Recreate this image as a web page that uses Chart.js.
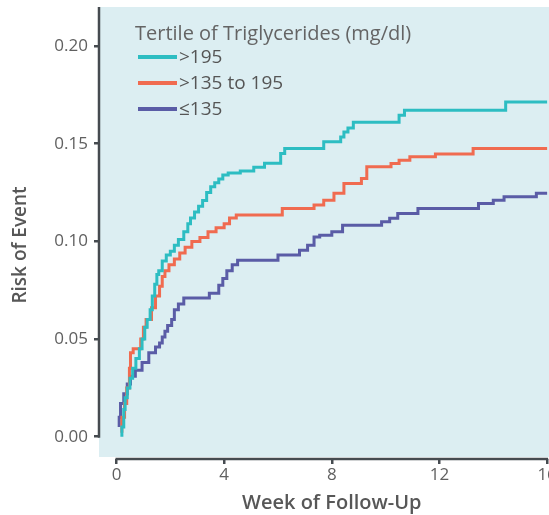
<!DOCTYPE html>
<html>
<head>
<meta charset="utf-8">
<script src="https://cdn.jsdelivr.net/npm/chart.js@4.4.0/dist/chart.umd.min.js"></script>
<style>
  html, body { margin: 0; padding: 0; background: #ffffff; overflow: hidden; }
  #wrap { position: relative; width: 549px; height: 515px; }
</style>
</head>
<body>
<div id="wrap"><canvas id="chart" width="549" height="515"></canvas></div>
<script>
// Cumulative risk curves by triglyceride tertile (step functions)
const weeksHigh = [0.2, 0.27, 0.32, 0.4, 0.5, 0.6, 0.72, 0.85, 0.95, 1.05, 1.14, 1.25, 1.33, 1.42, 1.5, 1.57, 1.7, 1.85, 2.0, 2.15, 2.3, 2.5, 2.65, 2.75, 2.9, 3.05, 3.2, 3.35, 3.5, 3.65, 3.8, 3.95, 4.15, 4.6, 5.1, 5.5, 6.1, 6.25, 7.7, 8.33, 8.45, 8.6, 8.8, 10.5, 10.7, 14.46, 15.27, 16.0];
const riskHigh  = [0.0, 0.005, 0.014, 0.02, 0.025, 0.03, 0.035, 0.04, 0.045, 0.05, 0.056, 0.06, 0.065, 0.072, 0.078, 0.083, 0.085, 0.09, 0.093, 0.095, 0.098, 0.101, 0.105, 0.109, 0.112, 0.115, 0.118, 0.121, 0.125, 0.128, 0.130, 0.132, 0.134, 0.135, 0.136, 0.138, 0.140, 0.145, 0.1476, 0.151, 0.1535, 0.156, 0.158, 0.161, 0.1646, 0.1672, 0.1714, 0.1714];

const weeksMid = [0.2, 0.3, 0.38, 0.48, 0.52, 0.62, 0.9, 1.0, 1.1, 1.3, 1.45, 1.6, 1.7, 1.8, 1.95, 2.15, 2.35, 2.55, 2.8, 3.1, 3.4, 3.7, 4.0, 4.2, 4.45, 6.16, 7.34, 7.7, 8.08, 8.45, 9.1, 9.3, 10.2, 10.5, 10.9, 11.85, 13.25, 15.85, 16.0];
const riskMid  = [0.002, 0.01, 0.017, 0.025, 0.035, 0.043, 0.045, 0.05, 0.056, 0.06, 0.066, 0.072, 0.077, 0.082, 0.085, 0.088, 0.091, 0.094, 0.097, 0.100, 0.102, 0.105, 0.107, 0.109, 0.112, 0.1135, 0.1169, 0.1186, 0.1211, 0.1246, 0.1297, 0.1322, 0.1382, 0.1399, 0.1416, 0.1433, 0.1448, 0.1476, 0.1476];

const weeksLow = [0.1, 0.15, 0.27, 0.4, 0.52, 0.7, 0.95, 1.2, 1.45, 1.6, 1.7, 1.8, 1.9, 2.05, 2.15, 2.3, 2.5, 3.45, 3.8, 3.95, 4.1, 4.3, 4.5, 6.0, 6.8, 7.1, 7.34, 7.55, 8.0, 8.4, 9.85, 10.15, 10.45, 11.2, 13.45, 14.0, 14.4, 15.6, 15.9, 16.0];
const riskLow  = [0.005, 0.01, 0.017, 0.022, 0.027, 0.031, 0.034, 0.038, 0.043, 0.046, 0.048, 0.051, 0.054, 0.057, 0.060, 0.065, 0.068, 0.071, 0.0734, 0.0776, 0.081, 0.085, 0.088, 0.0904, 0.093, 0.0955, 0.098, 0.1023, 0.1032, 0.105, 0.1083, 0.110, 0.1118, 0.1143, 0.1169, 0.1194, 0.1211, 0.1228, 0.1246, 0.1246];

const seriesLabels = ['>195', '>135 to 195', '\u2264135'];
const seriesColors = ['#2dbdc2', '#f06b50', '#5a5ca6'];
const xTicks = [0, 4, 8, 12, 16];
const yTicks = [0.00, 0.05, 0.10, 0.15, 0.20];
const keyTitle = 'Tertile of Triglycerides (mg/dl)';
const xTitle = 'Week of Follow-Up';
const yTitle = 'Risk of Event';

const FONT = "'Open Sans', 'Noto Sans', sans-serif";
const AXIS_COLOR = '#464b50';

function toPoints(xs, ys) { return xs.map((x, i) => ({ x: x, y: ys[i] })); }

// light blue panel behind the plot
const panelBg = {
  id: 'panelBg',
  beforeDraw(chart) {
    const { ctx, chartArea: a } = chart;
    ctx.save();
    ctx.fillStyle = '#dceef2';
    ctx.fillRect(a.left, a.top, a.right - a.left, a.bottom - a.top - 2);
    ctx.restore();
  }
};

// range-frame axis lines plus axis captions
const frame = {
  id: 'frame',
  afterDraw(chart) {
    const { ctx, chartArea: a, scales: { x, y } } = chart;
    ctx.save();
    ctx.strokeStyle = AXIS_COLOR;
    ctx.lineWidth = 2.5;
    ctx.lineCap = 'butt';
    ctx.beginPath();
    ctx.moveTo(a.left, a.top);
    ctx.lineTo(a.left, y.getPixelForValue(0) + 1);
    ctx.stroke();
    ctx.beginPath();
    ctx.moveTo(x.getPixelForValue(0) - 1, a.bottom);
    ctx.lineTo(x.getPixelForValue(16) + 1, a.bottom);
    ctx.stroke();

    ctx.fillStyle = '#575757';
    ctx.textAlign = 'center';
    ctx.textBaseline = 'middle';
    ctx.font = "600 20px " + FONT;
    ctx.fillText(xTitle, (x.getPixelForValue(0) + x.getPixelForValue(16)) / 2, 503);
    ctx.font = "600 19px " + FONT;
    ctx.translate(21, 245);
    ctx.rotate(-Math.PI / 2);
    ctx.fillText(yTitle, 0, 0);
    ctx.restore();
  }
};

// key drawn inside the plot panel
const inlineKey = {
  id: 'inlineKey',
  afterDraw(chart) {
    const { ctx } = chart;
    ctx.save();
    ctx.textAlign = 'left';
    ctx.textBaseline = 'middle';
    ctx.font = "20px " + FONT;
    ctx.fillStyle = '#646464';
    ctx.fillText(keyTitle, 135, 34);
    ctx.font = "19px " + FONT;
    const rows = [57, 83, 109];
    chart.data.datasets.forEach((ds, i) => {
      ctx.strokeStyle = ds.borderColor;
      ctx.lineWidth = 4;
      ctx.beginPath();
      ctx.moveTo(138, rows[i]);
      ctx.lineTo(177, rows[i]);
      ctx.stroke();
      ctx.fillStyle = '#555555';
      ctx.fillText(ds.label, 179, rows[i] + 1);
    });
    ctx.restore();
  }
};

const datasets = [
  { label: seriesLabels[0], data: toPoints(weeksHigh, riskHigh), borderColor: seriesColors[0] },
  { label: seriesLabels[1], data: toPoints(weeksMid, riskMid), borderColor: seriesColors[1] },
  { label: seriesLabels[2], data: toPoints(weeksLow, riskLow), borderColor: seriesColors[2] }
].map(d => Object.assign(d, { borderWidth: 3, pointRadius: 0, stepped: 'after', fill: false, tension: 0 }));

new Chart(document.getElementById('chart'), {
  type: 'line',
  data: { datasets },
  plugins: [panelBg, frame, inlineKey],
  options: {
    responsive: false,
    animation: false,
    devicePixelRatio: 1,
    layout: { padding: { left: 0, top: 7, right: 0, bottom: 0 } },
    plugins: { legend: { display: false }, tooltip: { enabled: false } },
    scales: {
      x: {
        type: 'linear',
        min: -0.65,
        max: 16.07,
        border: { display: false },
        grid: { drawOnChartArea: false, drawTicks: true, tickLength: 5, color: AXIS_COLOR, lineWidth: 2.5 },
        ticks: {
          autoSkip: false, maxRotation: 0, padding: 1,
          color: '#606060', font: { family: FONT, size: 17 },
          callback: v => String(v)
        },
        afterBuildTicks: s => { s.ticks = xTicks.map(v => ({ value: v })); },
        afterFit: s => { s.height = 56; s.paddingLeft = 0; s.paddingRight = 0; }
      },
      y: {
        type: 'linear',
        min: -0.0114,
        max: 0.22,
        border: { display: false },
        grid: { drawOnChartArea: false, drawTicks: true, tickLength: 5, color: AXIS_COLOR, lineWidth: 2.5 },
        ticks: {
          padding: 6,
          color: '#606060', font: { family: FONT, size: 17 },
          callback: v => v.toFixed(2)
        },
        afterBuildTicks: s => { s.ticks = yTicks.map(v => ({ value: v })); },
        afterFit: s => { s.width = 99; s.paddingTop = 0; s.paddingBottom = 0; }
      }
    }
  }
});
</script>
</body>
</html>
